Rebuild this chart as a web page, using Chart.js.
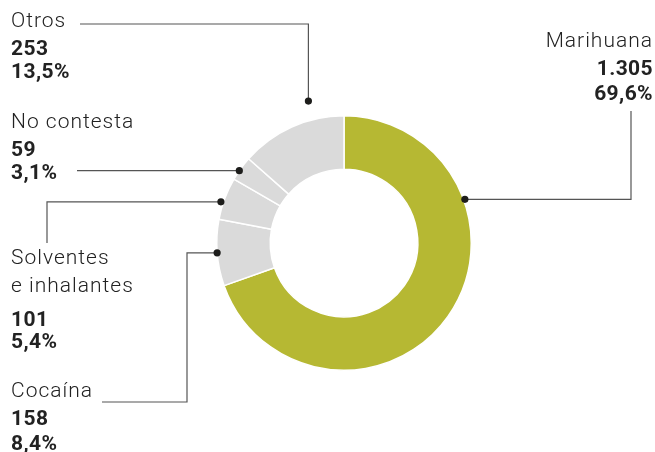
<!DOCTYPE html>
<html>
<head>
<meta charset="utf-8">
<script src="https://cdn.jsdelivr.net/npm/chart.js@4/dist/chart.umd.min.js"></script>
<style>
  html, body { margin: 0; background: #fff; }
  #wrap { width: 655px; height: 452px; position: relative; }
</style>
</head>
<body>
<div id="wrap"><canvas id="chart"></canvas></div>
<script>
// data
const categories = ["Marihuana", "Cocaína", "Solventes\ne inhalantes", "No contesta", "Otros"];
const cases = [1305, 158, 101, 59, 253];

const sliceColors = ["#b6b833", "#dadada", "#dadada", "#dadada", "#dadada"];
const total = cases.reduce((a, b) => a + b, 0);

const fmtInt = (n) => String(n).replace(/\B(?=(\d{3})+(?!\d))/g, ".");
const fmtPct = (n) => (n * 100 / total).toFixed(1).replace(".", ",") + "%";

// callout layout: where the dot sits on the slice, how the leader runs, where text goes
const callouts = [
  { f: 0.28, k: 1.01, route: [["h", 631], ["v", 111]], x: 653, align: "right", ys: [47, 75, 100] },
  { f: 0.5, k: 1.0, route: [["h", 187], ["v", 402], ["h", 102]], x: 11, align: "left", ys: [397, 425, 450] },
  { f: 0.4, k: 1.02, route: [["h", 47], ["v", 243]], x: 11, align: "left", ys: [264, 292, 326, 348] },
  { f: 0.4, k: 1.0, route: [["h", 77]], x: 11, align: "left", ys: [128, 156, 179] },
  { f: 0.71, k: 1.15, route: [["v", 24], ["h", 80]], x: 11, align: "left", ys: [27, 55, 78] }
];

const calloutPlugin = {
  id: "callouts",
  afterDraw(chart) {
    const ctx = chart.ctx;
    const meta = chart.getDatasetMeta(0);
    ctx.save();
    meta.data.forEach((arc, i) => {
      const c = callouts[i];
      const p = arc.getProps(["x", "y", "startAngle", "endAngle", "outerRadius"], true);
      const a = p.startAngle + c.f * (p.endAngle - p.startAngle);
      const dx = p.x + Math.cos(a) * p.outerRadius * c.k;
      const dy = p.y + Math.sin(a) * p.outerRadius * c.k;

      // leader line
      ctx.strokeStyle = "#555";
      ctx.lineWidth = 1.2;
      ctx.beginPath();
      let cx = dx, cy = dy;
      ctx.moveTo(cx, cy);
      c.route.forEach(([dir, v]) => {
        if (dir === "h") cx = v; else cy = v;
        ctx.lineTo(cx, cy);
      });
      ctx.stroke();

      // dot
      ctx.fillStyle = "#1d1d1b";
      ctx.beginPath();
      ctx.arc(dx, dy, 3.6, 0, Math.PI * 2);
      ctx.fill();

      // text
      const lines = categories[i].split("\n").map(t => ({ t, bold: false }));
      lines.push({ t: fmtInt(cases[i]), bold: true });
      lines.push({ t: fmtPct(cases[i]), bold: true });
      ctx.textAlign = c.align;
      ctx.textBaseline = "alphabetic";
      lines.forEach((ln, j) => {
        ctx.font = ln.bold ? "bold 21px Roboto" : "300 21px Roboto";
        ctx.letterSpacing = ln.bold ? "0.4px" : "1px";
        ctx.fillStyle = "#222";
        ctx.fillText(ln.t, c.x, c.ys[j]);
      });
    });
    ctx.restore();
  }
};

new Chart(document.getElementById("chart"), {
  type: "doughnut",
  data: {
    labels: categories,
    datasets: [{
      data: cases,
      backgroundColor: sliceColors,
      borderColor: "#fff",
      borderWidth: 1.5
    }]
  },
  options: {
    responsive: true,
    maintainAspectRatio: false,
    animation: false,
    events: [],
    cutout: "58%",
    layout: { padding: { left: 216, right: 183, top: 115, bottom: 81 } },
    plugins: {
      legend: { display: false },
      tooltip: { enabled: false }
    }
  },
  plugins: [calloutPlugin]
});
</script>
</body>
</html>
